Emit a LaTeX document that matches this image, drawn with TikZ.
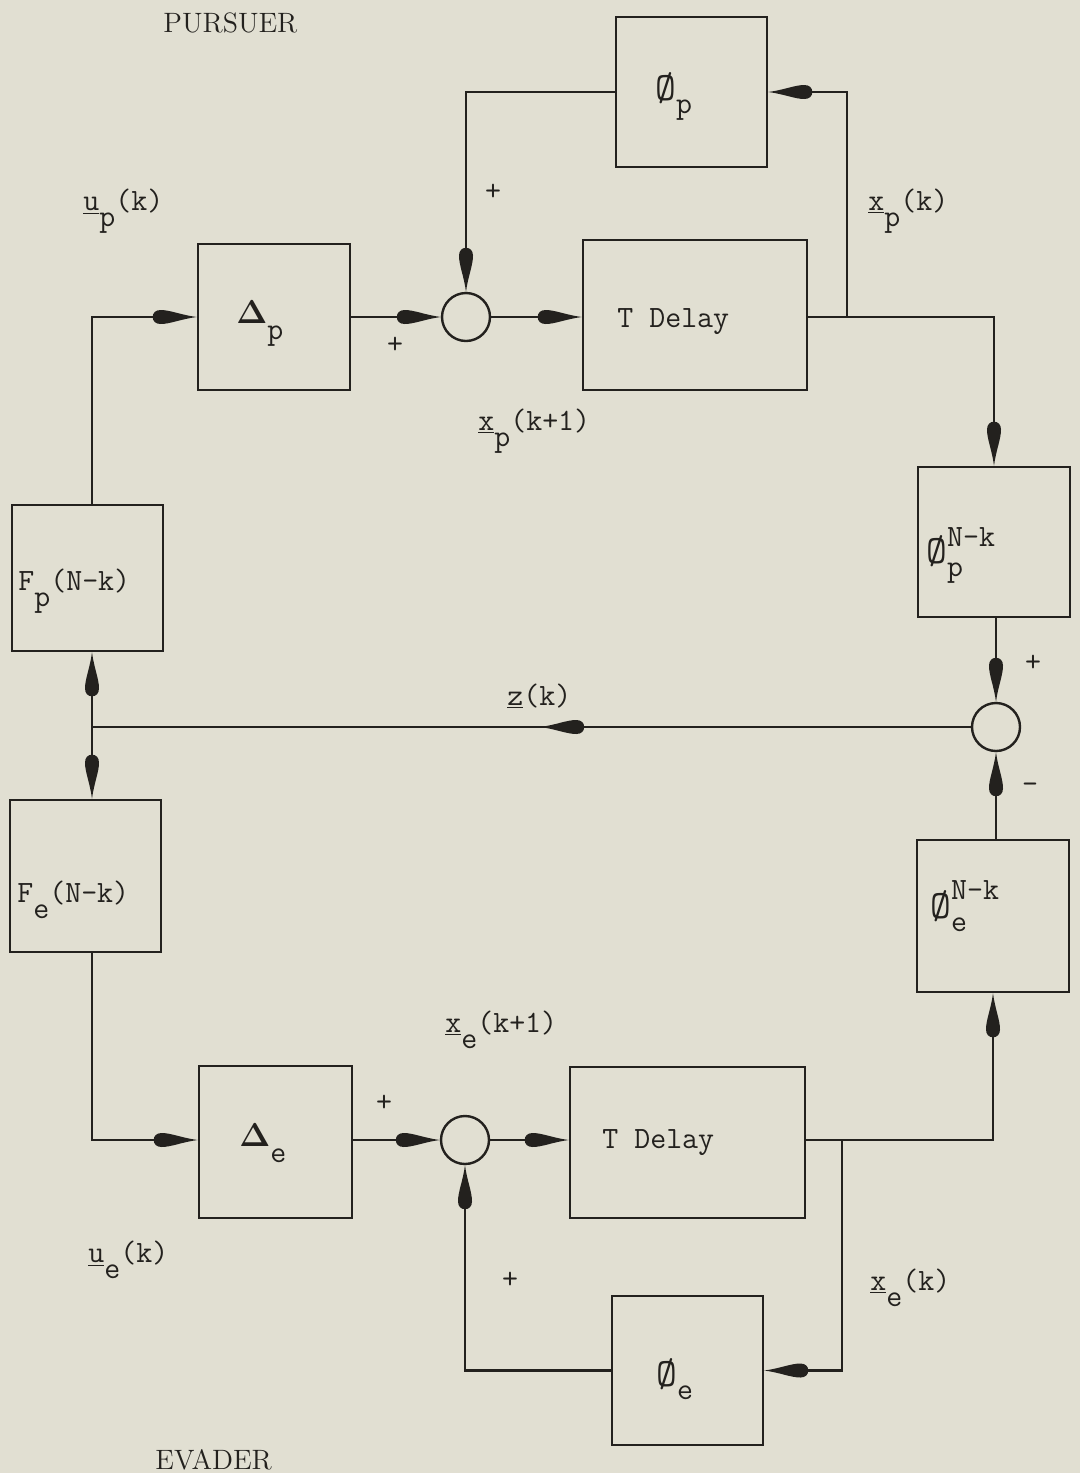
\documentclass[tikz,border=0pt]{standalone}
\usepackage{graphicx}
\usetikzlibrary{arrows.meta,decorations.markings}
\definecolor{paper}{RGB}{225,223,210}
\definecolor{ink}{RGB}{35,33,30}
\pgfdeclarearrow{
  name = Drop,
  parameters = {\the\pgfarrowlength,\the\pgfarrowwidth},
  setup code = {
    \pgfarrowssettipend{0pt}
    \pgfarrowssetbackend{-\pgfarrowlength}
    \pgfarrowssetlineend{-0.5\pgfarrowlength}
    \pgfarrowssavethe\pgfarrowlength
    \pgfarrowssavethe\pgfarrowwidth
  },
  drawing code = {
    \pgfpathmoveto{\pgfpointorigin}
    \pgfpathcurveto{\pgfpoint{-0.35\pgfarrowlength}{0.14\pgfarrowwidth}}{\pgfpoint{-0.6\pgfarrowlength}{0.5\pgfarrowwidth}}{\pgfpoint{-0.82\pgfarrowlength}{0.5\pgfarrowwidth}}
    \pgfpathcurveto{\pgfpoint{-0.94\pgfarrowlength}{0.5\pgfarrowwidth}}{\pgfpoint{-\pgfarrowlength}{0.28\pgfarrowwidth}}{\pgfpoint{-\pgfarrowlength}{0pt}}
    \pgfpathcurveto{\pgfpoint{-\pgfarrowlength}{-0.28\pgfarrowwidth}}{\pgfpoint{-0.94\pgfarrowlength}{-0.5\pgfarrowwidth}}{\pgfpoint{-0.82\pgfarrowlength}{-0.5\pgfarrowwidth}}
    \pgfpathcurveto{\pgfpoint{-0.6\pgfarrowlength}{-0.5\pgfarrowwidth}}{\pgfpoint{-0.35\pgfarrowlength}{-0.14\pgfarrowwidth}}{\pgfpointorigin}
    \pgfpathclose
    \pgfusepathqfill
  },
  defaults = {length = 22pt, width = 7pt}
}
\newcommand\lsub[1]{\raisebox{-8pt}{#1}}
\newcommand\phisym{\raisebox{-1.5pt}{\scalebox{1.3}{Ø}}}
\begin{document}
\begin{tikzpicture}[x=0.5pt,y=-0.5pt,
  blk/.style={draw=ink, line width=1.3pt, rectangle, inner sep=0pt},
  sumc/.style={draw=ink, line width=1.2pt, circle, inner sep=0pt, minimum size=24pt},
  txt/.style={text=ink, font=\fontsize{15.5}{18}\selectfont\ttfamily, inner sep=0pt, anchor=base west},
  ttl/.style={text=ink, font=\fontsize{14}{16}\selectfont\rmfamily, inner sep=0pt, anchor=base west},
  wire/.style={draw=ink, line width=1.05pt},
  arr/.style={wire, -{Drop[length=22pt,width=7pt]}},
  midarr/.style={postaction={decorate}, decoration={markings, mark=at position #1 with {\arrow{Drop[length=22pt,width=7pt]}}}}
]
\useasboundingbox (0,0) rectangle (1080,1473);
\fill[paper] (0,0) rectangle (1080,1473);

% blocks
\node[blk, minimum width=75.5pt, minimum height=75pt] (phip) at (691.5,92) {};
\node[blk, minimum width=76pt, minimum height=73pt] (deltap) at (274,317) {};
\node[blk, minimum width=112pt, minimum height=75pt] (tdp) at (695,315) {};
\node[blk, minimum width=76pt, minimum height=75pt] (phiNp) at (994,542) {};
\node[blk, minimum width=75.5pt, minimum height=73pt] (Fp) at (87.5,578) {};
\node[blk, minimum width=75.5pt, minimum height=76pt] (Fe) at (85.5,876) {};
\node[blk, minimum width=76pt, minimum height=76pt] (phiNe) at (993,916) {};
\node[blk, minimum width=76.5pt, minimum height=76pt] (deltae) at (275.5,1142) {};
\node[blk, minimum width=117.5pt, minimum height=75.5pt] (tde) at (687.5,1142.5) {};
\node[blk, minimum width=75.5pt, minimum height=74.5pt] (phie) at (687.5,1370.5) {};

% summing junctions
\node[sumc] (sp) at (466,317) {};
\node[sumc] (sz) at (996,727) {};
\node[sumc] (se) at (465,1140) {};

\coordinate (j) at (92,727);
\coordinate (bp) at (847,317);
\coordinate (be) at (842,1140);

% pursuer loop
\draw[arr] (deltap.east) -- (sp.west);
\draw[arr] (sp.east) -- (sp.east -| tdp.west);
\draw[arr] (tdp.east |- sp) -- (phiNp.north |- sp) -- (phiNp.north);
\draw[arr] (bp) -- (bp |- phip.east) -- (phip.east);
\draw[arr] (phip.west) -- (sp |- phip.west) -- (sp.north);
\draw[arr] (sz.north |- phiNp.south) -- (sz.north);
\draw[arr] (sz.south |- phiNe.north) -- (sz.south);
\draw[wire, midarr=0.49] (sz.west) -- (j);
\draw[arr] (j) -- (j |- Fp.south);
\draw[arr] (j) -- (j |- Fe.north);
\draw[arr] (j |- Fp.north) -- (j |- deltap.west) -- (deltap.west);
% evader loop
\draw[arr] (j |- Fe.south) -- (j |- se) -- (deltae.west |- se);
\draw[arr] (deltae.east |- se) -- (se.west);
\draw[arr] (se.east) -- (se.east -| tde.west);
\draw[arr] (tde.east |- se) -- (phiNe.south |- se) -- (phiNe.south);
\draw[arr] (be) -- (be |- phie.east) -- (phie.east);
\draw[arr] (phie.west) -- (se |- phie.west) -- (se.south);

% block texts
\node[txt] (tphip) at (655,97) {\phisym\lsub{p}};
\node[txt] (tdeltap) at (236,323) {\scalebox{1.15}{$\mathbf{\Delta}$}\lsub{p}};
\node[txt] (ttdp) at (617,327) {T Delay};
\node[txt] (tFp) at (18,590) {F\lsub{p}(N-k)};
\node[txt] (tphiNp) at (926,560) {\phisym\rlap{\raisebox{7pt}{N-k}}\lsub{p}};
\node[txt] (tFe) at (17,902) {F\lsub{e}(N-k)};
\node[txt] (tphiNe) at (930,915) {\phisym\rlap{\raisebox{8pt}{N-k}}\lsub{e}};
\node[txt] (tdeltae) at (239,1146) {\scalebox{1.15}{$\mathbf{\Delta}$}\lsub{e}};
\node[txt] (ttde) at (602,1148) {T Delay};
\node[txt] (tphie) at (656,1383) {\phisym\lsub{e}};

% signal labels
\node[txt] (lup) at (83,210) {\underline{u}\lsub{p}(k)};
\node[txt] (lxp) at (868,210) {\underline{x}\lsub{p}(k)};
\node[txt] (lxp1) at (478,430) {\underline{x}\lsub{p}(k+1)};
\node[txt] (lz) at (507,705) {\underline{z}(k)};
\node[txt] (lxe1) at (445,1032) {\underline{x}\lsub{e}(k+1)};
\node[txt] (lue) at (88,1262) {\underline{u}\lsub{e}(k)};
\node[txt] (lxe) at (870,1290) {\underline{x}\lsub{e}(k)};

% signs
\node[txt, anchor=center] (s1) at (493,192) {+};
\node[txt, anchor=center] (s2) at (395,345) {+};
\node[txt, anchor=center] (s3) at (1033,663) {+};
\node[txt, anchor=center] (s4) at (1030,788) {-};
\node[txt, anchor=center] (s5) at (384,1103) {+};
\node[txt, anchor=center] (s6) at (510,1280) {+};

% titles
\node[ttl] (tpur) at (163,32) {PURSUER};
\node[ttl] (tev) at (155,1469) {EVADER};
\end{tikzpicture}
\end{document}
